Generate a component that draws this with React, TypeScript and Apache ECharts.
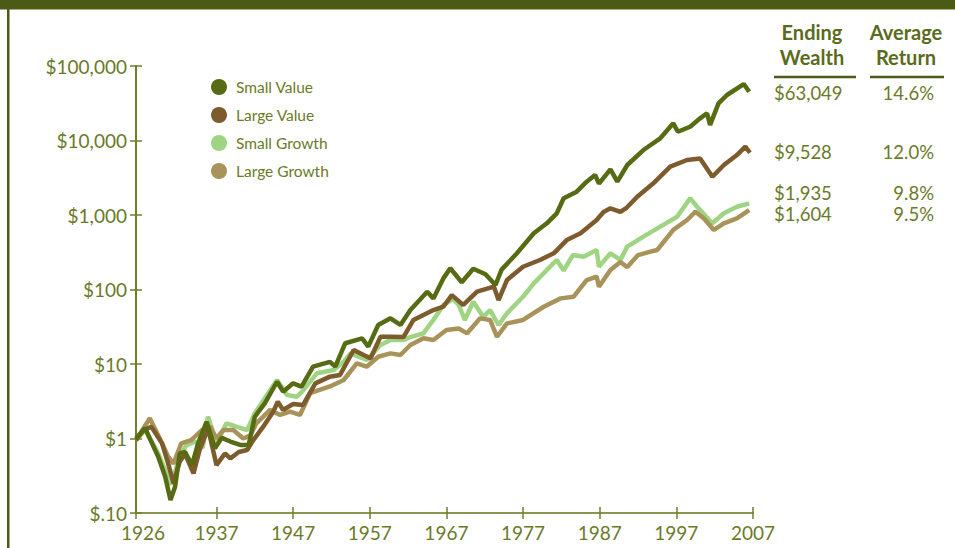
import React, { useEffect, useRef } from "react";
import * as echarts from "echarts";

// ---- data (year, growth of $1) ----
const smallValue: [number, number][] = [
  [1926.5, 1.0], [1927.7, 1.38], [1928.3, 1.0], [1929.4, 0.57], [1930.3, 0.31], [1931.0, 0.15],
  [1931.6, 0.225], [1932.2, 0.63], [1932.9, 0.66], [1933.8, 0.44], [1934.6, 0.86], [1935.7, 1.68],
  [1936.8, 0.74], [1937.7, 1.02], [1938.8, 0.91], [1940.1, 0.82], [1941.2, 0.82], [1942.0, 1.96],
  [1943.3, 2.96], [1944.9, 5.78], [1945.7, 4.25], [1947.0, 5.5], [1948.1, 4.96], [1949.6, 9.2],
  [1951.8, 10.7], [1952.5, 9.2], [1953.8, 19.0], [1956.0, 22.1], [1956.8, 17.1], [1958.1, 33.4],
  [1959.7, 41], [1961.0, 33.4], [1962.3, 53], [1964.5, 93.5], [1965.3, 76], [1966.6, 141],
  [1967.5, 193], [1969.0, 125], [1970.5, 190], [1972.1, 160], [1973.4, 115], [1974.2, 185],
  [1976.2, 306], [1978.4, 568], [1980.1, 774], [1981.4, 1054], [1982.3, 1676], [1984.0, 2057],
  [1985.3, 2800], [1986.4, 3440], [1986.9, 2630], [1988.4, 4100], [1989.3, 2800], [1990.6, 4690],
  [1992.7, 7450], [1994.9, 10700], [1996.6, 17000], [1997.2, 13100], [1998.8, 15300], [2000.1, 19850],
  [2001.0, 23200], [2001.4, 16200], [2002.5, 31550], [2003.6, 40800], [2005.8, 57300], [2006.5, 45200],
];

const largeValue: [number, number][] = [
  [1926.5, 0.95], [1927.5, 1.3], [1928.5, 1.44], [1929.9, 0.86], [1930.7, 0.46], [1931.4, 0.25],
  [1932.2, 0.49], [1932.9, 0.62], [1934.0, 0.34], [1934.8, 0.7], [1935.9, 1.37], [1937.0, 0.44],
  [1938.1, 0.63], [1938.8, 0.54], [1939.9, 0.66], [1941.0, 0.7], [1941.8, 0.95], [1943.1, 1.44],
  [1944.4, 2.29], [1945.0, 3.12], [1945.7, 2.42], [1947.0, 2.9], [1948.3, 2.82], [1949.9, 5.5],
  [1951.8, 6.76], [1953.1, 7.1], [1954.9, 15.4], [1956.2, 13.2], [1957.1, 11.9], [1958.4, 23.2],
  [1959.7, 23.2], [1961.4, 23], [1962.7, 39], [1965.3, 53], [1966.6, 58.7], [1967.7, 84],
  [1969.2, 62], [1971.0, 93.5], [1973.2, 109], [1973.8, 72], [1974.9, 134], [1977.0, 202],
  [1979.2, 249], [1981.0, 306], [1982.7, 461], [1984.5, 568], [1986.6, 857], [1987.5, 1100],
  [1988.4, 1230], [1989.7, 1100], [1990.5, 1250], [1991.9, 1760], [1994.0, 2660], [1996.2, 4450],
  [1998.4, 5470], [2000.1, 5740], [2001.7, 3265], [2003.2, 4690], [2004.9, 6380], [2006.0, 8260],
  [2006.6, 6850],
];

const smallGrowth: [number, number][] = [
  [1926.5, 0.95], [1927.7, 1.3], [1929.4, 0.63], [1930.3, 0.38], [1931.1, 0.24], [1932.0, 0.49],
  [1933.0, 0.8], [1934.2, 0.91], [1935.2, 0.75], [1935.9, 1.96], [1937.0, 0.86], [1938.3, 1.6],
  [1939.6, 1.44], [1941.0, 1.3], [1942.0, 2.18], [1944.9, 6.1], [1946.2, 3.84], [1947.5, 3.64],
  [1948.2, 4.3], [1950.1, 7.5], [1952.3, 8.3], [1953.6, 10.7], [1954.5, 13.9], [1956.6, 11.3],
  [1958.4, 18], [1959.7, 21], [1961.4, 21], [1962.3, 23], [1964.0, 25.8], [1965.3, 39],
  [1966.6, 62], [1967.9, 75], [1968.6, 62], [1969.4, 39], [1970.5, 68.5], [1971.8, 43],
  [1972.7, 53], [1973.8, 33.4], [1974.9, 48], [1977.0, 80], [1978.4, 121], [1980.1, 183],
  [1981.4, 249], [1982.3, 180], [1983.5, 290], [1984.9, 275], [1986.6, 339], [1986.9, 202],
  [1988.4, 306], [1989.7, 250], [1990.6, 376], [1992.7, 512], [1994.9, 697], [1997.1, 948],
  [1998.8, 1676], [1999.7, 1290], [2001.7, 774], [2003.2, 1054], [2004.9, 1290], [2006.5, 1436],
];

const largeGrowth: [number, number][] = [
  [1926.5, 0.95], [1928.3, 1.87], [1929.6, 1.0], [1930.7, 0.57], [1931.4, 0.46], [1932.4, 0.86],
  [1933.7, 0.95], [1935.1, 1.3], [1936.2, 1.44], [1937.0, 1.0], [1937.9, 1.3], [1939.2, 1.3],
  [1940.5, 1.0], [1941.4, 1.1], [1942.2, 1.6], [1944.0, 2.42], [1945.3, 2.07], [1946.6, 2.29],
  [1947.9, 2.07], [1949.2, 4.05], [1951.8, 5.0], [1953.6, 6.1], [1955.3, 10.2], [1956.6, 9.2],
  [1958.1, 12.5], [1959.7, 13.9], [1961.0, 13.2], [1962.3, 18], [1964.0, 22.1], [1965.3, 21],
  [1967.0, 28.6], [1968.6, 30], [1969.7, 25.8], [1971.4, 41], [1972.7, 39], [1973.6, 23.2],
  [1974.9, 35], [1977.0, 39], [1979.7, 58.7], [1981.9, 76], [1983.6, 80], [1985.3, 134],
  [1986.6, 149], [1986.9, 109], [1988.4, 183], [1989.7, 234], [1990.6, 200], [1992.0, 290],
  [1993.5, 320], [1994.5, 339], [1996.6, 630], [1998.4, 857], [1999.5, 1107], [2000.6, 900],
  [2001.9, 630], [2003.2, 774], [2004.9, 900], [2006.5, 1166],
];

const seriesNames = ["Small Value", "Large Value", "Small Growth", "Large Growth"];
const seriesColors = ["#566b12", "#7e5b2d", "#9fd482", "#a8945a"];

const xTickValues = [1926.5, 1937, 1947, 1957, 1967, 1977, 1987, 1997, 2007];
const xTickLabels = ["1926", "1937", "1947", "1957", "1967", "1977", "1987", "1997", "2007"];
const yTickValues = [0.1, 1, 10, 100, 1000, 10000, 100000];
const yTickLabels = ["$.10", "$1", "$10", "$100", "$1,000", "$10,000", "$100,000"];

const endingWealth = ["$63,049", "$9,528", "$1,935", "$1,604"];
const averageReturn = ["14.6%", "12.0%", "9.8%", "9.5%"];

const OLIVE_DARK = "#4b5a14";
const TEXT = "#6b7a28";
const HEAD = "#5b6b1c";
const AXIS = "#6f7f2a";
const FONT = "Lato, 'Open Sans', sans-serif";

export default function App() {
  const ref = useRef<HTMLDivElement>(null);
  useEffect(() => {
    if (!ref.current) return;
    const chart = echarts.init(ref.current, undefined, { renderer: "svg" });
    const rowY = [93, 152, 193, 214];
    const xLabelFmt = (v: number) => {
      const i = xTickValues.findIndex((t) => Math.abs(t - v) < 1e-6);
      if (i < 0) return "";
      return i === 0 ? "{f|" + xTickLabels[i] + "}" : xTickLabels[i];
    };
    const yLabelFmt = (v: number) => {
      const i = yTickValues.findIndex((t) => Math.abs(Math.log10(t) - Math.log10(v)) < 1e-6);
      return i >= 0 ? yTickLabels[i] : "";
    };
    const dataSets = [smallGrowth, largeGrowth, largeValue, smallValue];
    const order = [2, 3, 1, 0];
    const headStyle = (text: string) => ({
      text,
      fill: HEAD,
      font: "bold 20px " + FONT,
      textAlign: "center",
      textVerticalAlign: "middle",
      verticalAlign: "middle",
    });
    chart.setOption({
      animation: false,
      textStyle: { fontFamily: FONT },
      grid: { left: 136, right: 202, top: 66, bottom: 35, containLabel: false },
      legend: {
        orient: "vertical",
        left: 206,
        top: 74,
        icon: "circle",
        itemWidth: 16,
        itemHeight: 16,
        itemGap: 12,
        data: seriesNames,
        textStyle: { color: TEXT, fontSize: 15.5, fontFamily: FONT, padding: [0, 0, 0, 4] },
      },
      xAxis: [
        {
          type: "value",
          min: 1926.5,
          max: 2007,
          splitLine: { show: false },
          axisLine: { show: true, lineStyle: { color: "#8a9650", width: 2 } },
          axisTick: { show: true, length: 6, customValues: xTickValues, lineStyle: { color: AXIS, width: 1.5 } },
          axisLabel: {
            customValues: xTickValues,
            formatter: xLabelFmt,
            color: TEXT,
            fontSize: 19,
            fontFamily: FONT,
            margin: 10,
            rich: { f: { padding: [0, 0, 0, 14], fontSize: 19, color: TEXT, fontFamily: FONT } },
          },
        },
        {
          type: "value",
          min: 1926.5,
          max: 2007,
          position: "bottom",
          splitLine: { show: false },
          axisLine: { show: false },
          axisTick: { show: true, inside: true, length: 6, customValues: xTickValues, lineStyle: { color: AXIS, width: 1.5 } },
          axisLabel: { show: false },
        },
      ],
      yAxis: [
        {
          type: "log",
          logBase: 10,
          min: 0.1,
          max: 100000,
          splitLine: { show: false },
          axisLine: { show: true, lineStyle: { color: AXIS, width: 2 } },
          axisTick: { show: true, length: 6, customValues: yTickValues, lineStyle: { color: AXIS, width: 1.5 } },
          axisLabel: {
            customValues: yTickValues,
            formatter: yLabelFmt,
            color: TEXT,
            fontSize: 19,
            fontFamily: FONT,
            margin: 9,
          },
        },
        {
          type: "log",
          logBase: 10,
          min: 0.1,
          max: 100000,
          position: "left",
          splitLine: { show: false },
          axisLine: { show: false },
          axisTick: { show: true, inside: true, length: 6, customValues: yTickValues, lineStyle: { color: AXIS, width: 1.5 } },
          axisLabel: { show: false },
        },
      ],
      series: order.map((si, k) => ({
        name: seriesNames[si],
        type: "line",
        xAxisIndex: 0,
        yAxisIndex: 0,
        data: dataSets[k],
        showSymbol: false,
        symbol: "circle",
        color: seriesColors[si],
        lineStyle: { width: 4.5, color: seriesColors[si] },
        z: 2 + k,
      })),
      graphic: [
        { type: "rect", left: 0, top: 0, shape: { width: 955, height: 9 }, style: { fill: OLIVE_DARK } },
        { type: "rect", left: 0, top: 9, shape: { width: 955, height: 1 }, style: { fill: "#a9b083" } },
        { type: "rect", left: 7, top: 0, shape: { width: 2.5, height: 548 }, style: { fill: OLIVE_DARK } },
        { type: "text", x: 812, y: 32, style: headStyle("Ending") },
        { type: "text", x: 812, y: 57, style: headStyle("Wealth") },
        { type: "text", x: 906, y: 32, style: headStyle("Average") },
        { type: "text", x: 906, y: 57, style: headStyle("Return") },
        { type: "line", shape: { x1: 774, y1: 77, x2: 856, y2: 77 }, style: { stroke: OLIVE_DARK, lineWidth: 2.5 } },
        { type: "line", shape: { x1: 870, y1: 77, x2: 944, y2: 77 }, style: { stroke: OLIVE_DARK, lineWidth: 2.5 } },
        ...endingWealth.map((t, i) => ({
          type: "text",
          x: 774,
          y: rowY[i],
          style: { text: t, fill: TEXT, font: "18.5px " + FONT, textAlign: "left", textVerticalAlign: "middle", verticalAlign: "middle" },
        })),
        ...averageReturn.map((t, i) => ({
          type: "text",
          x: 934,
          y: rowY[i],
          style: { text: t, fill: TEXT, font: "18.5px " + FONT, textAlign: "right", textVerticalAlign: "middle", verticalAlign: "middle" },
        })),
      ],
    });
    return () => chart.dispose();
  }, []);
  return (
    <div
      ref={ref}
      style={{ position: "fixed", left: 0, top: 0, width: 955, height: 548, background: "#ffffff" }}
    />
  );
}
